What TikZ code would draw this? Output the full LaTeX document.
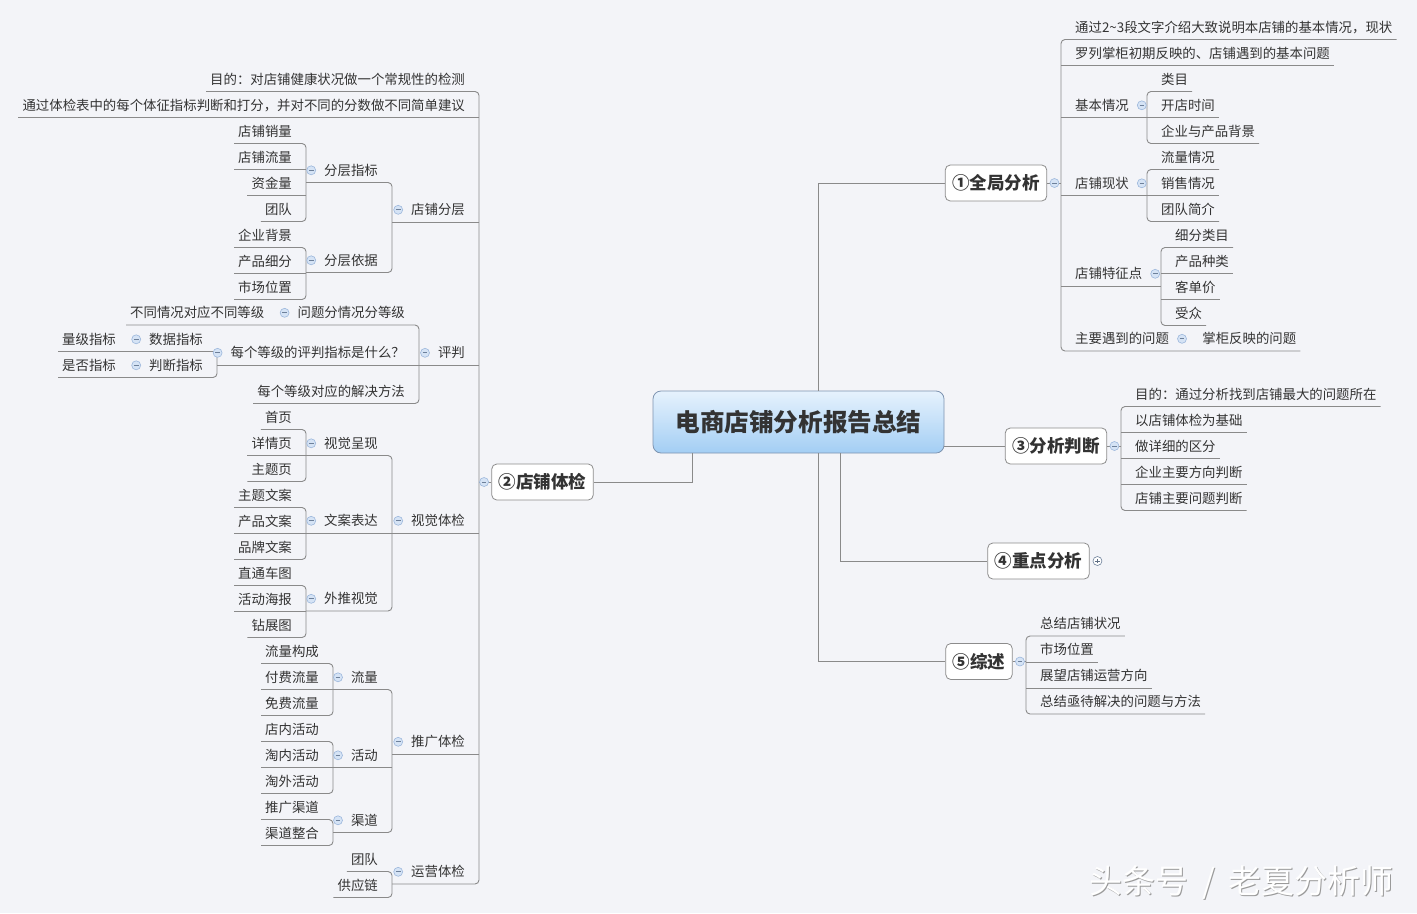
\documentclass[tikz,border=0pt]{standalone}
\usepackage{fontspec}
\setmainfont{Noto Sans CJK SC}
\usetikzlibrary{positioning}
\definecolor{bgcol}{HTML}{F3F4F8}
\definecolor{linkcol}{HTML}{8A8A8A}
\definecolor{txtcol}{HTML}{333333}
\definecolor{rootTop}{HTML}{E6F2FD}
\definecolor{rootBot}{HTML}{A3CEF4}
\definecolor{rootLine}{HTML}{7D93B0}
\definecolor{boxLine}{HTML}{8C8C8C}
\definecolor{foldFill}{HTML}{D5E3F5}
\definecolor{foldLine}{HTML}{9CB7DC}
\definecolor{wmShadow}{HTML}{9A9A9A}
\tikzset{
  link/.style = {draw=linkcol, line width=0.9bp},
  elbow/.style = {link, rounded corners=4bp},
  topic/.style = {inner xsep=4bp, inner ysep=0pt, text height=17bp, text depth=7bp, text=txtcol, font=\fontsize{13.4bp}{16bp}\selectfont},
  rtopic/.style = {topic, anchor=south west, execute at begin node={\hspace*{10bp}}},
  ltopic/.style = {topic, anchor=south east, execute at end node={\hspace*{10bp}}},
  mainbox/.style = {rectangle, draw=boxLine, fill=white, rounded corners=5bp, minimum height=36bp, inner xsep=7bp, line width=0.8bp, text=txtcol, font=\fontsize{17.5bp}{20bp}\selectfont\bfseries},
  rootbox/.style = {rectangle, draw=rootLine, top color=rootTop, bottom color=rootBot, rounded corners=8bp, minimum width=291bp, minimum height=62bp, line width=0.8bp, text=txtcol, font=\fontsize{24.6bp}{28bp}\selectfont\bfseries},
  foldmark/.style = {circle, draw=foldLine, fill=foldFill, minimum size=9bp, inner sep=0pt, line width=0.6bp,
    path picture={\draw[foldLine!70!black, line width=0.8bp] ([xshift=-2.3bp]path picture bounding box.center) -- ([xshift=2.3bp]path picture bounding box.center);}},
  foldplus/.style = {circle, draw=foldLine!70!black, fill=white, minimum size=9bp, inner sep=0pt, line width=0.6bp,
    path picture={\draw[foldLine!60!black, line width=0.8bp] ([xshift=-2.3bp]path picture bounding box.center) -- ([xshift=2.3bp]path picture bounding box.center) ([yshift=-2.3bp]path picture bounding box.center) -- ([yshift=2.3bp]path picture bounding box.center);}},
  wmark/.style = {inner sep=0pt, text=white, font=\fontsize{33bp}{36bp}\selectfont}
}

\begin{document}
\begin{tikzpicture}[x=1bp, y=-1bp]

\fill[bgcol] (0,0) rectangle (1417,913);
\useasboundingbox (0,0) rectangle (1417,913);

% centre and main topics
\node[rootbox] (root) at (798.5,422) {电商店铺分析报告总结};
\node[mainbox] (m1) at (996,183) {①全局分析};
\node[mainbox] (m2) at (542.5,482) {②店铺体检};
\node[mainbox] (m3) at (1056,446) {③分析判断};
\node[mainbox] (m4) at (1038.5,561) {④重点分析};
\node[mainbox] (m5) at (979,661.5) {⑤综述};

% ① right side
\node[rtopic] (a1) at (1061,39.5) {通过2\textasciitilde 3段文字介绍大致说明本店铺的基本情况，现状};
\node[rtopic] (a2) at (1061,65.5) {罗列掌柜初期反映的、店铺遇到的基本问题};
\node[rtopic] (a3) at (1061,117.5) {基本情况};
\node[rtopic] (a31) at (1147,91.5) {类目};
\node[rtopic] (a32) at (1147,117.5) {开店时间};
\node[rtopic] (a33) at (1147,143.5) {企业与产品背景};
\node[rtopic] (a4) at (1061,195.5) {店铺现状};
\node[rtopic] (a41) at (1147,169.5) {流量情况};
\node[rtopic] (a42) at (1147,195.5) {销售情况};
\node[rtopic] (a43) at (1147,221.5) {团队简介};
\node[rtopic] (a5) at (1061,286) {店铺特征点};
\node[rtopic] (a51) at (1161,247.5) {细分类目};
\node[rtopic] (a52) at (1161,273.5) {产品种类};
\node[rtopic] (a53) at (1161,299.5) {客单价};
\node[rtopic] (a54) at (1161,325.5) {受众};
\node[rtopic] (a6) at (1061,351) {主要遇到的问题};
\node[rtopic] (a61) at ([xshift=15bp]a6.south east) {掌柜反映的问题};

% ③ right side
\node[rtopic] (c1) at (1121,406.5) {目的：通过分析找到店铺最大的问题所在};
\node[rtopic] (c2) at (1121,432.5) {以店铺体检为基础};
\node[rtopic] (c3) at (1121,458.5) {做详细的区分};
\node[rtopic] (c4) at (1121,484.5) {企业主要方向判断};
\node[rtopic] (c5) at (1121,510.5) {店铺主要问题判断};

% ⑤ right side
\node[rtopic] (e1) at (1026,636) {总结店铺状况};
\node[rtopic] (e2) at (1026,662) {市场位置};
\node[rtopic] (e3) at (1026,688) {展望店铺运营方向};
\node[rtopic] (e4) at (1026,714) {总结亟待解决的问题与方法};

% ② left side
\node[ltopic] (b1) at (479,91.5) {目的：对店铺健康状况做一个常规性的检测};
\node[ltopic] (b2) at (479,117.5) {通过体检表中的每个体征指标判断和打分，并对不同的分数做不同简单建议};
\node[ltopic] (b3) at (479,222) {店铺分层};
\node[ltopic] (b31) at (392,182.5) {分层指标};
\node[ltopic] (b311) at (306,143.5) {店铺销量};
\node[ltopic] (b312) at (306,169.5) {店铺流量};
\node[ltopic] (b313) at (306,195.5) {资金量};
\node[ltopic] (b314) at (306,221.5) {团队};
\node[ltopic] (b32) at (392,272.5) {分层依据};
\node[ltopic] (b321) at (306,247.5) {企业背景};
\node[ltopic] (b322) at (306,273.5) {产品细分};
\node[ltopic] (b323) at (306,299.5) {市场位置};
\node[ltopic] (b4) at (479,365) {评判};
\node[ltopic] (b41) at (419,325) {问题分情况分等级};
\node[ltopic] (b411) at ([xshift=-15bp]b41.south west) {不同情况对应不同等级};
\node[ltopic] (b42) at (419,365) {每个等级的评判指标是什么？};
\node[ltopic] (b421) at (217,351.5) {数据指标};
\node[ltopic] (b4211) at ([xshift=-15bp]b421.south west) {量级指标};
\node[ltopic] (b422) at (217,377.5) {判断指标};
\node[ltopic] (b4221) at ([xshift=-15bp]b422.south west) {是否指标};
\node[ltopic] (b43) at (419,403.5) {每个等级对应的解决方法};
\node[ltopic] (b5) at (479,533) {视觉体检};
\node[ltopic] (b51) at (392,455.5) {视觉呈现};
\node[ltopic] (b511) at (306,429.5) {首页};
\node[ltopic] (b512) at (306,455.5) {详情页};
\node[ltopic] (b513) at (306,481.5) {主题页};
\node[ltopic] (b52) at (392,533) {文案表达};
\node[ltopic] (b521) at (306,507.5) {主题文案};
\node[ltopic] (b522) at (306,533.5) {产品文案};
\node[ltopic] (b523) at (306,559.5) {品牌文案};
\node[ltopic] (b53) at (392,611) {外推视觉};
\node[ltopic] (b531) at (306,585.5) {直通车图};
\node[ltopic] (b532) at (306,611.5) {活动海报};
\node[ltopic] (b533) at (306,637.5) {钻展图};
\node[ltopic] (b6) at (479,754) {推广体检};
\node[ltopic] (b61) at (392,689.5) {流量};
\node[ltopic] (b611) at (333,663.5) {流量构成};
\node[ltopic] (b612) at (333,689.5) {付费流量};
\node[ltopic] (b613) at (333,715.5) {免费流量};
\node[ltopic] (b62) at (392,767.5) {活动};
\node[ltopic] (b621) at (333,741.5) {店内活动};
\node[ltopic] (b622) at (333,767.5) {淘内活动};
\node[ltopic] (b623) at (333,793.5) {淘外活动};
\node[ltopic] (b63) at (392,832.5) {渠道};
\node[ltopic] (b631) at (333,819.5) {推广渠道};
\node[ltopic] (b632) at (333,845.5) {渠道整合};
\node[ltopic] (b7) at (479,884) {运营体检};
\node[ltopic] (b71) at (392,871.5) {团队};
\node[ltopic] (b72) at (392,897.5) {供应链};

% centre to main topics
\draw[link] ([xshift=19.5bp]root.north) |- (m1.west);
\draw[link] (m3.west -| root.east) -- (m3.west);
\draw[link] ([xshift=41.5bp]root.south) |- (m4.west);
\draw[link] ([xshift=19.5bp]root.south) |- (m5.west);
\draw[link] ([xshift=-106.5bp]root.south) |- (m2.east);

% ① links
\draw[link] (m1.east) -- (m1.east -| a1.south west);
\draw[elbow] (a1.south east) -- (a1.south west) -- (a6.south west) -- (a61.south east);
\draw[link] (a2.south west) -- (a2.south east);
\draw[link] (a3.south west) -- (a3.south -| a31.south west);
\draw[link] (a4.south west) -- (a4.south -| a41.south west);
\draw[link] (a5.south west) -- (a5.south -| a51.south west);
\draw[elbow] (a31.south east) -- (a31.south west) -- (a33.south west) -- (a33.south east);
\draw[link] (a32.south west) -- (a32.south east);
\draw[elbow] (a41.south east) -- (a41.south west) -- (a43.south west) -- (a43.south east);
\draw[link] (a42.south west) -- (a42.south east);
\draw[elbow] (a51.south east) -- (a51.south west) -- (a54.south west) -- (a54.south east);
\draw[link] (a52.south west) -- (a52.south east);
\draw[link] (a53.south west) -- (a53.south east);

% ③ links
\draw[link] (m3.east) -- (m3.east -| c1.south west);
\draw[elbow] (c1.south east) -- (c1.south west) -- (c5.south west) -- (c5.south east);
\draw[link] (c2.south west) -- (c2.south east);
\draw[link] (c3.south west) -- (c3.south east);
\draw[link] (c4.south west) -- (c4.south east);

% ⑤ links
\draw[link] (m5.east) -- (m5.east -| e1.south west);
\draw[elbow] (e1.south east) -- (e1.south west) -- (e4.south west) -- (e4.south east);
\draw[link] (e2.south west) -- (e2.south east);
\draw[link] (e3.south west) -- (e3.south east);

% ② links
\draw[link] (m2.west) -- (m2.west -| b1.south east);
\draw[elbow] (b1.south west) -- (b1.south east) -- (b7.south east) -- (b7.south -| b71.south east);
\draw[link] (b2.south east) -- (b2.south west);
\draw[link] (b3.south east) -- (b3.south -| b31.south east);
\draw[link] (b4.south east) -- (b4.south -| b41.south east);
\draw[link] (b5.south east) -- (b5.south -| b51.south east);
\draw[link] (b6.south east) -- (b6.south -| b61.south east);

% 店铺分层
\draw[elbow] (b31.south -| b311.south east) -- (b31.south east) -- (b32.south east) -- (b32.south -| b321.south east);
\draw[elbow] (b311.south west) -- (b311.south east) -- (b314.south east) -- (b314.south west);
\draw[link] (b312.south east) -- (b312.south west);
\draw[link] (b313.south east) -- (b313.south west);
\draw[elbow] (b321.south west) -- (b321.south east) -- (b323.south east) -- (b323.south west);
\draw[link] (b322.south east) -- (b322.south west);

% 评判
\draw[elbow] (b411.south west) -- (b41.south east) -- (b43.south east) -- (b43.south west);
\draw[link] (b42.south east) -- (b42.south -| b421.south east);
\draw[elbow] (b4211.south west) -- (b421.south east) -- (b422.south east) -- (b4221.south west);

% 视觉体检
\draw[elbow] (b51.south -| b511.south east) -- (b51.south east) -- (b53.south east) -- (b53.south -| b531.south east);
\draw[link] (b52.south east) -- (b52.south -| b521.south east);
\draw[elbow] (b511.south west) -- (b511.south east) -- (b513.south east) -- (b513.south west);
\draw[link] (b512.south east) -- (b512.south west);
\draw[elbow] (b521.south west) -- (b521.south east) -- (b523.south east) -- (b523.south west);
\draw[link] (b522.south east) -- (b522.south west);
\draw[elbow] (b531.south west) -- (b531.south east) -- (b533.south east) -- (b533.south west);
\draw[link] (b532.south east) -- (b532.south west);

% 推广体检
\draw[elbow] (b61.south -| b611.south east) -- (b61.south east) -- (b63.south east) -- (b63.south -| b631.south east);
\draw[link] (b62.south east) -- (b62.south -| b621.south east);
\draw[elbow] (b611.south west) -- (b611.south east) -- (b613.south east) -- (b613.south west);
\draw[link] (b612.south east) -- (b612.south west);
\draw[elbow] (b621.south west) -- (b621.south east) -- (b623.south east) -- (b623.south west);
\draw[link] (b622.south east) -- (b622.south west);
\draw[elbow] (b631.south west) -- (b631.south east) -- (b632.south east) -- (b632.south west);

% 运营体检
\draw[elbow] (b71.south west) -- (b71.south east) -- (b72.south east) -- (b72.south west);

% fold marks
\node[foldmark, right=2.5bp of m1] (f1) {};
\node[foldmark, left=2.5bp of m2] (f2) {};
\node[foldmark, right=2.5bp of m3] (f3) {};
\node[foldplus, right=3bp of m4] (f4) {};
\node[foldmark, right=2.5bp of m5] (f5) {};
\node[foldmark, right=4bp of a3] (fa3) {};
\node[foldmark, right=4bp of a4] (fa4) {};
\node[foldmark, right=4bp of a5] (fa5) {};
\node[foldmark, right=4bp of a6] (fa6) {};
\node[foldmark, left=4bp of b3] (fb3) {};
\node[foldmark, left=4bp of b31] (fb31) {};
\node[foldmark, left=4bp of b32] (fb32) {};
\node[foldmark, left=4bp of b4] (fb4) {};
\node[foldmark, left=4bp of b41] (fb41) {};
\node[foldmark, left=4bp of b42] (fb42) {};
\node[foldmark, left=4bp of b421] (fb421) {};
\node[foldmark, left=4bp of b422] (fb422) {};
\node[foldmark, left=4bp of b5] (fb5) {};
\node[foldmark, left=4bp of b51] (fb51) {};
\node[foldmark, left=4bp of b52] (fb52) {};
\node[foldmark, left=4bp of b53] (fb53) {};
\node[foldmark, left=4bp of b6] (fb6) {};
\node[foldmark, left=4bp of b61] (fb61) {};
\node[foldmark, left=4bp of b62] (fb62) {};
\node[foldmark, left=4bp of b63] (fb63) {};
\node[foldmark, left=4bp of b7] (fb7) {};

% watermark
\node[wmark, text=wmShadow] (wm0) at (1242.5,884) {头条号\hspace{14bp}/\hspace{14bp}老夏分析师};
\node[wmark] (wm) at (1241.5,883) {头条号\hspace{14bp}/\hspace{14bp}老夏分析师};

\end{tikzpicture}
\end{document}
